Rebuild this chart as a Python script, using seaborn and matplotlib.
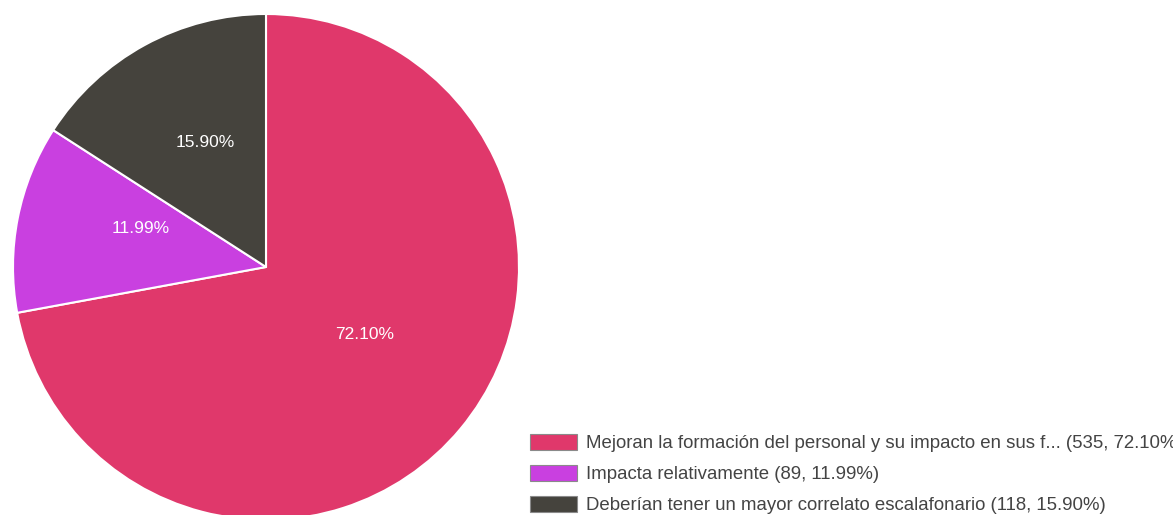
import matplotlib
matplotlib.use("Agg")
import matplotlib.pyplot as plt
from matplotlib.patches import Patch
import seaborn as sns

# -------------------------------
# Data
# -------------------------------
labels = [
    "Mejoran la formación del personal y su impacto en sus f...",
    "Impacta relativamente",
    "Deberían tener un mayor correlato escalafonario",
]
counts = [535, 89, 118]
percents = [72.10, 11.99, 15.90]
colors = ["#E0386B", "#C940E0", "#45433D"]

sns.set_style("white")
plt.rcParams["font.family"] = ["Liberation Sans", "DejaVu Sans"]

W, H = 1173, 515
fig = plt.figure(figsize=(W / 100, H / 100), dpi=100)

# pie axes placed in pixels: centre (266, 267), radius 253
cx, cy, r = 266, 267, 253
ax = fig.add_axes([(cx - r) / W, (H - cy - r) / H, 2 * r / W, 2 * r / H])
ax.axis("off")

wedges, texts, autotexts = ax.pie(
    counts, colors=colors, startangle=90, counterclock=False, radius=1,
    autopct=lambda p: f"{p:.2f}%", pctdistance=0.53,
    wedgeprops=dict(edgecolor="white", linewidth=1.5),
    textprops=dict(color="white", fontsize=12.5),
)
ax.set_xlim(-1, 1)
ax.set_ylim(-1, 1)
ax.set_aspect("equal")
for w in wedges:
    w.set_clip_on(False)

# label placement as in the original chart
for t, pos in zip(autotexts, [(0.39, -0.267), (-0.494, 0.153), (-0.239, 0.493)]):
    t.set_position(pos)

# -------------------------------
# Legend
# -------------------------------
handles = [Patch(facecolor=c, edgecolor="#8a8a8a", linewidth=0.8) for c in colors]
leg_labels = [f"{l} ({n}, {p:.2f}%)" for l, n, p in zip(labels, counts, percents)]
fig.legend(
    handles, leg_labels, loc="upper left",
    bbox_to_anchor=(530 / W, 1 - 434 / H), bbox_transform=fig.transFigure,
    frameon=False, fontsize=13.4, handlelength=2.5, handleheight=0.95,
    handletextpad=0.5, labelspacing=0.67, borderpad=0, borderaxespad=0,
    labelcolor="#444444",
)

fig.savefig("out.png", dpi=100)
